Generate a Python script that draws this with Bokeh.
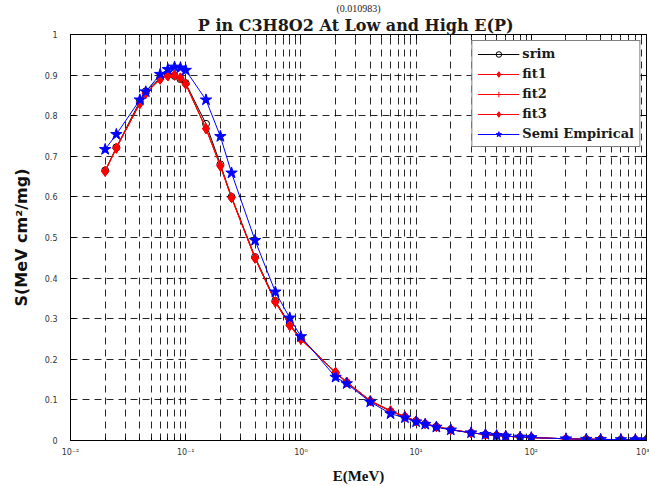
from bokeh.plotting import figure
from bokeh.models import (FixedTicker, LogAxis, LinearAxis, Title, Legend, LegendItem,
                          CustomJSTickFormatter, Range1d)
from bokeh.embed import file_html
from bokeh.resources import INLINE

# ---- data ----
energy = [0.02, 0.025, 0.04, 0.045, 0.06, 0.07, 0.08, 0.09, 0.1, 0.15, 0.2, 0.25, 0.4, 0.6,
          0.8, 1, 2, 2.5, 4, 6, 8, 10, 12, 15, 20, 30, 40, 50, 60, 80, 100, 200, 300, 400,
          600, 800, 1000]
srim = [0.665, 0.722, 0.835, 0.860, 0.893, 0.900, 0.898, 0.890, 0.880, 0.780, 0.680, 0.600,
        0.452, 0.344, 0.286, 0.252, 0.166, 0.143, 0.097, 0.072, 0.058, 0.048, 0.041, 0.034,
        0.027, 0.019, 0.015, 0.0125, 0.0108, 0.0086, 0.0072, 0.0042, 0.0032, 0.0027, 0.0022,
        0.0019, 0.0018]
fit1 = [0.663, 0.720, 0.830, 0.855, 0.890, 0.898, 0.900, 0.893, 0.878, 0.768, 0.676, 0.598,
        0.449, 0.341, 0.283, 0.249, 0.168, 0.144, 0.098, 0.073, 0.059, 0.048, 0.041, 0.034,
        0.027, 0.019, 0.015, 0.0125, 0.0108, 0.0085, 0.0072, 0.0042, 0.0032, 0.0027, 0.0022,
        0.0019, 0.0018]
fit2 = [0.664, 0.721, 0.831, 0.856, 0.890, 0.898, 0.899, 0.892, 0.878, 0.769, 0.677, 0.598,
        0.449, 0.342, 0.283, 0.249, 0.168, 0.144, 0.098, 0.073, 0.059, 0.048, 0.041, 0.034,
        0.027, 0.019, 0.015, 0.0125, 0.0108, 0.0085, 0.0072, 0.0042, 0.0032, 0.0027, 0.0022,
        0.0019, 0.0018]
fit3 = [0.663, 0.720, 0.830, 0.855, 0.890, 0.898, 0.900, 0.893, 0.878, 0.768, 0.676, 0.598,
        0.449, 0.341, 0.283, 0.249, 0.168, 0.144, 0.098, 0.073, 0.059, 0.048, 0.041, 0.034,
        0.027, 0.019, 0.015, 0.0125, 0.0108, 0.0085, 0.0072, 0.0042, 0.0032, 0.0027, 0.0022,
        0.0019, 0.0018]
semi = [0.717, 0.754, 0.839, 0.859, 0.902, 0.914, 0.920, 0.918, 0.912, 0.839, 0.749, 0.659,
        0.493, 0.366, 0.302, 0.256, 0.156, 0.140, 0.095, 0.066, 0.056, 0.046, 0.040, 0.033,
        0.026, 0.019, 0.015, 0.0125, 0.0108, 0.0085, 0.0072, 0.0042, 0.0031, 0.0027, 0.0022,
        0.0019, 0.0018]

x_major = [0.01, 0.1, 1, 10, 100, 1000]
x_labels = ["10\u207b\u00b2", "10\u207b\u00b9", "10\u2070", "10\u00b9", "10\u00b2", "10\u00b3"]
x_minor = [m * d for d in [0.01, 0.1, 1, 10, 100] for m in [2, 3, 4, 5, 6, 7, 8, 9]]
y_ticks = [0, 0.1, 0.2, 0.3, 0.4, 0.5, 0.6, 0.7, 0.8, 0.9, 1]
y_labels = ["0", "0.1", "0.2", "0.3", "0.4", "0.5", "0.6", "0.7", "0.8", "0.9", "1"]

title_main = "P in C3H8O2 At Low and High  E(P)"
title_top = "(0.010983)"

SERIF = "DejaVu Serif"

p = figure(width=649, height=486, x_axis_type="log",
           x_range=Range1d(0.01, 1000), y_range=Range1d(0, 1),
           output_backend="svg", toolbar_location=None,
           min_border_left=70, min_border_right=3, min_border_top=0, min_border_bottom=44)
p.background_fill_color = "white"
p.border_fill_color = "white"
p.outline_line_color = "black"
p.outline_line_width = 1

xt = FixedTicker(ticks=x_major, minor_ticks=x_minor)
yt = FixedTicker(ticks=y_ticks)

# bottom axis
xa = p.xaxis[0]
xa.ticker = xt
xa.major_label_overrides = dict(zip(x_major, x_labels))
xa.major_tick_in = 5
xa.major_tick_out = 0
xa.minor_tick_in = 3
xa.minor_tick_out = 0
xa.major_label_standoff = 7
xa.major_label_text_font = "DejaVu Sans"
xa.major_label_text_font_size = "8px"
xa.major_label_text_color = "#333333"
xa.axis_label = "E(MeV)"
xa.axis_label_text_font = "Liberation Serif"
xa.axis_label_text_font_style = "bold"
xa.axis_label_text_font_size = "15px"
xa.axis_label_text_color = "#111111"
xa.axis_label_standoff = 8
xa.axis_line_color = "black"

# left axis
ya = p.yaxis[0]
ya.ticker = yt
ya.major_label_overrides = dict(zip(y_ticks, y_labels))
ya.major_tick_in = 5
ya.major_tick_out = 0
ya.minor_tick_line_color = None
ya.major_label_standoff = 13
ya.major_label_text_font = "DejaVu Sans"
ya.major_label_text_font_size = "8px"
ya.major_label_text_color = "#333333"
ya.axis_label = "S(MeV cm\u00b2/mg)"
ya.axis_label_text_font = "DejaVu Sans"
ya.axis_label_text_font_style = "bold"
ya.axis_label_text_font_size = "16px"
ya.axis_label_text_color = "#111111"
ya.axis_label_standoff = 11

blank = CustomJSTickFormatter(code="return '';")

ra = LinearAxis(ticker=yt, formatter=blank, major_tick_in=5, major_tick_out=0,
                minor_tick_line_color=None, major_label_standoff=0)
p.add_layout(ra, "right")
ta = LogAxis(ticker=xt, formatter=blank, major_tick_in=5, major_tick_out=0,
             minor_tick_in=3, minor_tick_out=0, major_label_standoff=0)
p.add_layout(ta, "above")

p.add_layout(Title(text=title_main, align="center", text_font=SERIF, text_font_style="bold",
                   text_font_size="16px", text_color="#1a1a1a", standoff=0), "above")
p.add_layout(Title(text=title_top, align="center", text_font="Liberation Serif",
                   text_font_style="normal", text_font_size="10px", text_color="#222222",
                   standoff=0), "above")

# grid
for g in (p.xgrid[0], p.ygrid[0]):
    g.grid_line_color = "black"
    g.grid_line_dash = "7 5"
    g.grid_line_width = 1
    g.grid_line_alpha = 0.85
p.xgrid[0].ticker = xt
p.ygrid[0].ticker = yt
p.xgrid[0].minor_grid_line_color = "black"
p.xgrid[0].minor_grid_line_dash = "7 5"
p.xgrid[0].minor_grid_line_alpha = 0.85

# series
l_s = p.line(energy, srim, line_color="black", line_width=1)
m_s = p.scatter(energy, srim, marker="circle", size=7, line_color="black", fill_color=None)
l_1 = p.line(energy, fit1, line_color="red", line_width=1)
m_1 = p.scatter(energy, fit1, marker="diamond", size=10, line_color="red", fill_color="red")
l_2 = p.line(energy, fit2, line_color="red", line_width=1)
m_2 = p.scatter(energy, fit2, marker="cross", size=8, line_color="red")
l_3 = p.line(energy, fit3, line_color="red", line_width=1)
m_3 = p.scatter(energy, fit3, marker="diamond", size=10, line_color="red", fill_color="red")
l_b = p.line(energy, semi, line_color="blue", line_width=1)
m_b = p.scatter(energy, semi, marker="star", size=12, line_color="blue", fill_color="blue")

legend = Legend(items=[
    LegendItem(label="srim", renderers=[l_s, m_s]),
    LegendItem(label="fit1", renderers=[l_1, m_1]),
    LegendItem(label="fit2", renderers=[l_2, m_2]),
    LegendItem(label="fit3", renderers=[l_3, m_3]),
    LegendItem(label="Semi Empirical", renderers=[l_b, m_b]),
], location="top_right")
legend.margin = 6
legend.padding = 5
legend.spacing = 5
legend.glyph_width = 42
legend.glyph_height = 14
legend.label_height = 14
legend.label_standoff = 3
legend.border_line_color = "black"
legend.border_line_width = 1
legend.background_fill_color = "white"
legend.background_fill_alpha = 1
legend.label_text_font = SERIF
legend.label_text_font_style = "bold"
legend.label_text_font_size = "13px"
legend.label_text_color = "#1a1a1a"
p.add_layout(legend)

open("out.html", "w").write(file_html(p, INLINE))
